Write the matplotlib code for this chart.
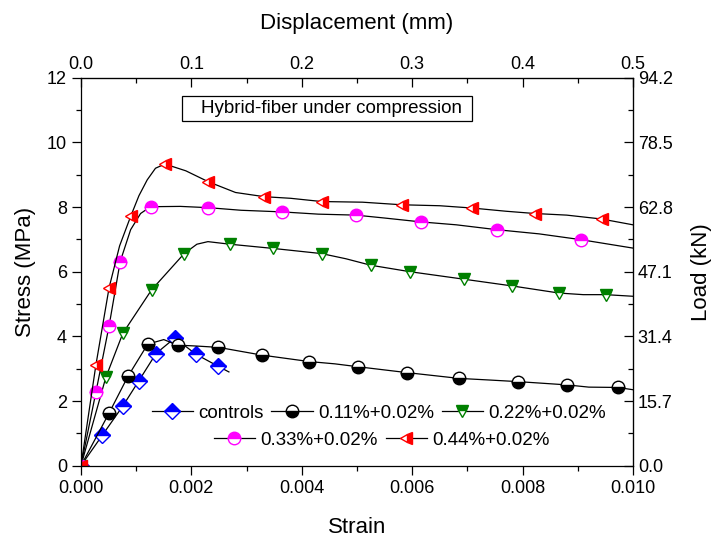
import numpy as np
import matplotlib
matplotlib.use("Agg")
import matplotlib.pyplot as plt
from matplotlib.patches import Rectangle

plt.rcParams['font.family'] = ['Liberation Sans', 'DejaVu Sans']

# Stress-strain curves (strain, stress in MPa); markers sit on selected points
ctrl_strain = [0, 0.00039, 0.00076, 0.00105, 0.00136, 0.00170, 0.00208, 0.00249, 0.00268]
ctrl_stress = [0, 0.95, 1.85, 2.63, 3.47, 3.95, 3.45, 3.07, 2.90]
ctrl_marks = [0, 1, 2, 3, 4, 5, 6, 7]

f011_strain = [0, 0.00051, 0.00085, 0.00121, 0.0015, 0.00175, 0.0021, 0.00249, 0.00328,
               0.00414, 0.0046, 0.00502, 0.00590, 0.00685, 0.0074, 0.00792, 0.00880,
               0.0092, 0.00972, 0.0100]
f011_stress = [0, 1.63, 2.76, 3.76, 3.90, 3.73, 3.70, 3.66, 3.42,
               3.22, 3.15, 3.06, 2.88, 2.70, 2.65, 2.60, 2.50,
               2.43, 2.42, 2.35]
f011_marks = [0, 1, 2, 3, 5, 7, 8, 9, 11, 12, 13, 15, 16, 18]

f022_strain = [0, 0.00045, 0.00076, 0.00128, 0.00187, 0.0021, 0.0023, 0.00270, 0.00348,
               0.00436, 0.0048, 0.00525, 0.00596, 0.00693, 0.00781, 0.00866, 0.0091,
               0.00951, 0.0100]
f022_stress = [0, 2.73, 4.10, 5.44, 6.56, 6.85, 6.93, 6.85, 6.72,
               6.56, 6.40, 6.20, 6.00, 5.77, 5.56, 5.34, 5.29,
               5.29, 5.24]
f022_marks = [0, 1, 2, 3, 4, 7, 8, 9, 11, 12, 13, 14, 15, 17]

f033_strain = [0, 0.00027, 0.00051, 0.00071, 0.0009, 0.00108, 0.00126, 0.0018, 0.00231,
               0.0029, 0.00364, 0.0043, 0.00498, 0.0055, 0.00616, 0.0068, 0.00753,
               0.0083, 0.00906, 0.0100]
f033_stress = [0, 2.27, 4.33, 6.31, 7.30, 7.80, 8.01, 8.02, 7.98,
               7.90, 7.85, 7.78, 7.75, 7.66, 7.54, 7.45, 7.30,
               7.17, 6.99, 6.73]
f033_marks = [0, 1, 2, 3, 6, 8, 10, 12, 14, 16, 18]

f044_strain = [0, 0.00027, 0.00051, 0.0007, 0.00090, 0.00105, 0.0012, 0.00135, 0.00152,
               0.0019, 0.00231, 0.0028, 0.00332, 0.0038, 0.00436, 0.0051, 0.00581,
               0.0065, 0.00708, 0.0077, 0.00822, 0.0088, 0.00943, 0.0100]
f044_stress = [0, 3.11, 5.51, 6.80, 7.71, 8.35, 8.84, 9.20, 9.33,
               9.12, 8.78, 8.45, 8.32, 8.27, 8.17, 8.15, 8.07,
               8.04, 7.97, 7.87, 7.80, 7.75, 7.63, 7.45]
f044_marks = [0, 1, 2, 4, 8, 10, 12, 14, 16, 18, 20, 22]

labels = ["controls", "0.11%+0.02%", "0.22%+0.02%", "0.33%+0.02%", "0.44%+0.02%"]

fig = plt.figure(figsize=(7.21, 5.40), dpi=100)
ax = fig.add_axes([0.1123, 0.1376, 0.7656, 0.7185])

series = [
    (ctrl_strain, ctrl_stress, ctrl_marks, 'D', 'top', '#0000ff', 8),
    (f011_strain, f011_stress, f011_marks, 'o', 'bottom', '#000000', 9),
    (f022_strain, f022_stress, f022_marks, 'v', 'top', '#008000', 9),
    (f033_strain, f033_stress, f033_marks, 'o', 'top', '#ff00ff', 9),
    (f044_strain, f044_stress, f044_marks, '<', 'right', '#ff0000', 9),
]

handles = []
for (x, y, marks, mk, fs, col, ms), lab in zip(series, labels):
    h, = ax.plot(x, y, color='black', lw=0.9, marker=mk, markevery=marks,
                 fillstyle=fs, markerfacecolor=col, markerfacecoloralt='white',
                 markeredgecolor=col, markeredgewidth=1.0, markersize=ms, label=lab)
    handles.append(h)

ax.set_xlim(0, 0.010)
ax.set_ylim(0, 12)
ax.set_xticks(np.arange(0, 0.0101, 0.002))
ax.set_xticks(np.arange(0, 0.0101, 0.001), minor=True)
ax.set_yticks(np.arange(0, 12.1, 2))
ax.set_yticks(np.arange(0, 12.1, 1), minor=True)
ax.xaxis.set_major_formatter(matplotlib.ticker.FormatStrFormatter('%.3f'))
ax.tick_params(which='major', direction='out', length=6.5, width=0.9, labelsize=13)
ax.tick_params(which='minor', direction='out', length=3.6, width=0.9)
ax.tick_params(axis='x', pad=4)
for s in ax.spines.values():
    s.set_linewidth(0.9)

ax.set_xlabel("Strain", fontsize=16, labelpad=14)
ax.set_ylabel("Stress (MPa)", fontsize=16, labelpad=8)

# Displacement on top, load on the right
top = ax.secondary_xaxis('top', functions=(lambda s: s * 50, lambda d: d / 50))
top.set_xticks(np.arange(0, 0.51, 0.1))
top.set_xticks(np.arange(0, 0.51, 0.05), minor=True)
top.xaxis.set_major_formatter(matplotlib.ticker.FormatStrFormatter('%.1f'))
top.tick_params(which='major', direction='in', length=6.5, width=0.9, labelsize=13)
top.tick_params(which='minor', direction='in', length=3.6, width=0.9)
top.set_xlabel("Displacement (mm)", fontsize=16, labelpad=19)

load_ticks = np.round(np.arange(0, 7) * 15.7, 1)
right = ax.secondary_yaxis('right', functions=(lambda s: s * 7.85, lambda p: p / 7.85))
right.set_yticks(load_ticks)
right.set_yticks(np.arange(0, 13) * 7.85, minor=True)
right.yaxis.set_major_formatter(matplotlib.ticker.FormatStrFormatter('%.1f'))
right.tick_params(which='major', direction='in', length=6.5, width=0.9, labelsize=13)
right.tick_params(which='minor', direction='in', length=3.6, width=0.9)
right.set_ylabel("Load (kN)", fontsize=16, labelpad=13)

# Title box inside the plot
ax.add_patch(Rectangle((0.183, 0.888), 0.525, 0.065, transform=ax.transAxes,
                       fill=False, lw=0.9, edgecolor='black'))
ax.text(0.217, 0.921, "Hybrid-fiber under compression", transform=ax.transAxes,
        fontsize=13.5, ha='left', va='center')

leg1 = ax.legend(handles=handles[:3], ncol=3, loc='center', bbox_to_anchor=(0.54, 0.135),
                 frameon=False, fontsize=13.5, handlelength=2.2, handletextpad=0.3,
                 columnspacing=0.4, numpoints=1, borderpad=0)
ax.add_artist(leg1)
ax.legend(handles=handles[3:], ncol=2, loc='center', bbox_to_anchor=(0.545, 0.066),
          frameon=False, fontsize=13.5, handlelength=2.2, handletextpad=0.3,
          columnspacing=0.4, numpoints=1, borderpad=0)

fig.savefig("out.png", dpi=100)
